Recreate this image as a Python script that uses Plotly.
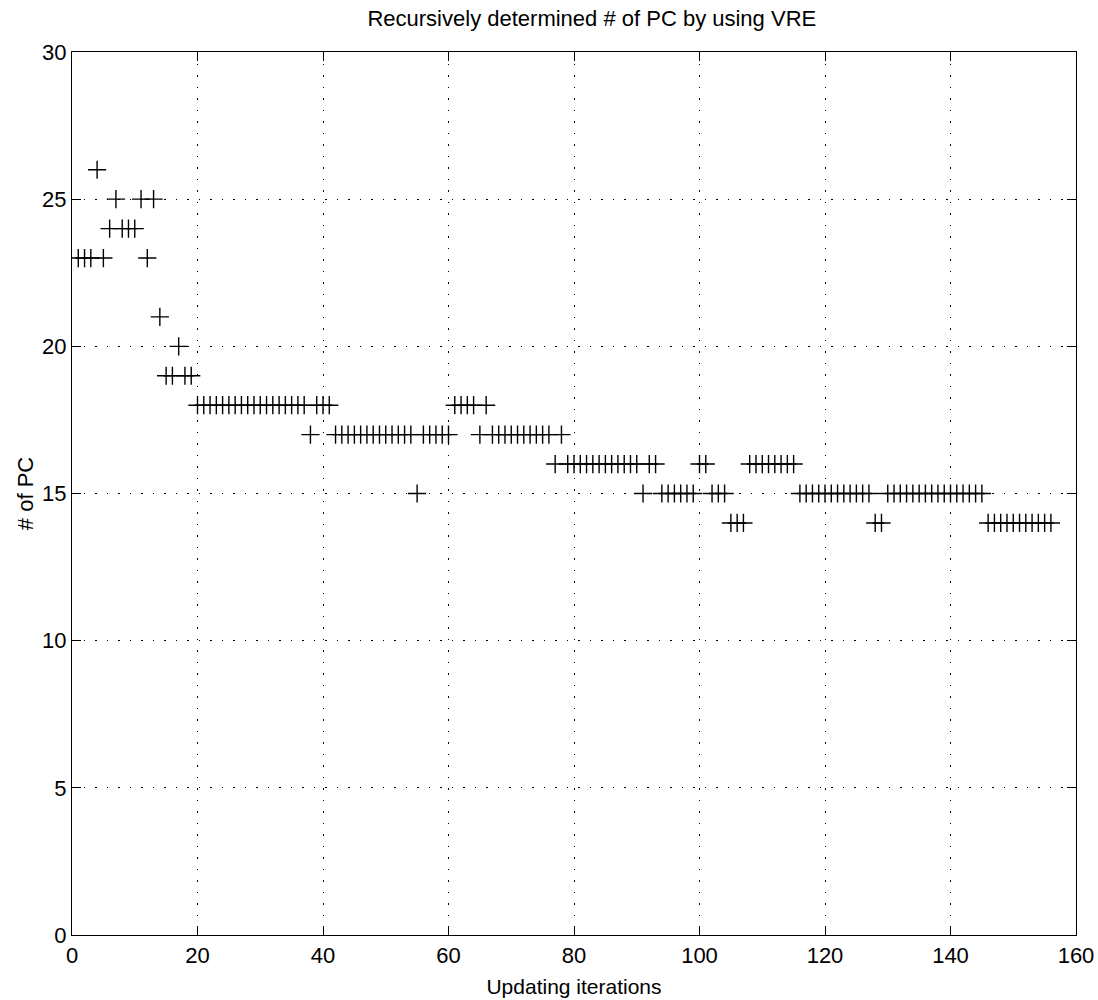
import plotly.graph_objects as go

# Number of principal components chosen at each updating iteration
n_pc = [
    23, 23, 23, 26, 23, 24, 25, 24, 24, 24,   # 1-10
    25, 23, 25, 21, 19, 19, 20, 19, 19, 18,   # 11-20
    18, 18, 18, 18, 18, 18, 18, 18, 18, 18,   # 21-30
    18, 18, 18, 18, 18, 18, 18, 17, 18, 18,   # 31-40
    18, 17, 17, 17, 17, 17, 17, 17, 17, 17,   # 41-50
    17, 17, 17, 17, 15, 17, 17, 17, 17, 17,   # 51-60
    18, 18, 18, 18, 17, 18, 17, 17, 17, 17,   # 61-70
    17, 17, 17, 17, 17, 17, 16, 17, 16, 16,   # 71-80
    16, 16, 16, 16, 16, 16, 16, 16, 16, 16,   # 81-90
    15, 16, 16, 15, 15, 15, 15, 15, 15, 16,   # 91-100
    16, 15, 15, 15, 14, 14, 14, 16, 16, 16,   # 101-110
    16, 16, 16, 16, 16, 15, 15, 15, 15, 15,   # 111-120
    15, 15, 15, 15, 15, 15, 15, 14, 14, 15,   # 121-130
    15, 15, 15, 15, 15, 15, 15, 15, 15, 15,   # 131-140
    15, 15, 15, 15, 15, 14, 14, 14, 14, 14,   # 141-150
    14, 14, 14, 14, 14, 14,                   # 151-156
]
iterations = list(range(1, len(n_pc) + 1))

x_ticks = [0, 20, 40, 60, 80, 100, 120, 140, 160]
y_ticks = [0, 5, 10, 15, 20, 25, 30]

FONT = "Liberation Sans, Arial, Helvetica, sans-serif"

fig = go.Figure()
fig.add_trace(go.Scatter(
    x=iterations, y=n_pc, mode="markers",
    marker=dict(symbol="cross-thin", size=13, color="black",
                line=dict(color="black", width=1.4)),
    showlegend=False,
))

axis_common = dict(
    showline=True, linecolor="black", linewidth=1.2, mirror="ticks",
    ticks="inside", ticklen=9, tickcolor="black", tickwidth=1,
    showgrid=True, gridcolor="black", gridwidth=1, griddash="1.5px,10px",
    zeroline=False, automargin=False,
    tickfont=dict(family=FONT, size=22, color="black"),
)

fig.update_layout(
    width=1098, height=1000,
    margin=dict(l=72, r=22, t=52, b=65),
    paper_bgcolor="white", plot_bgcolor="white",
    title=dict(text="Recursively determined # of PC by using VRE",
               x=0.539, xanchor="center", y=0.982, yanchor="middle",
               font=dict(family=FONT, size=22, color="black")),
    xaxis=dict(range=[0, 160], tickvals=x_ticks,
               title=dict(text="Updating iterations", standoff=12,
                          font=dict(family=FONT, size=21, color="black")),
               **axis_common),
    yaxis=dict(range=[0, 30], tickvals=y_ticks,
               title=dict(text="# of PC", standoff=2,
                          font=dict(family=FONT, size=22, color="black")),
               **axis_common),
)

fig.write_html("out.html")
